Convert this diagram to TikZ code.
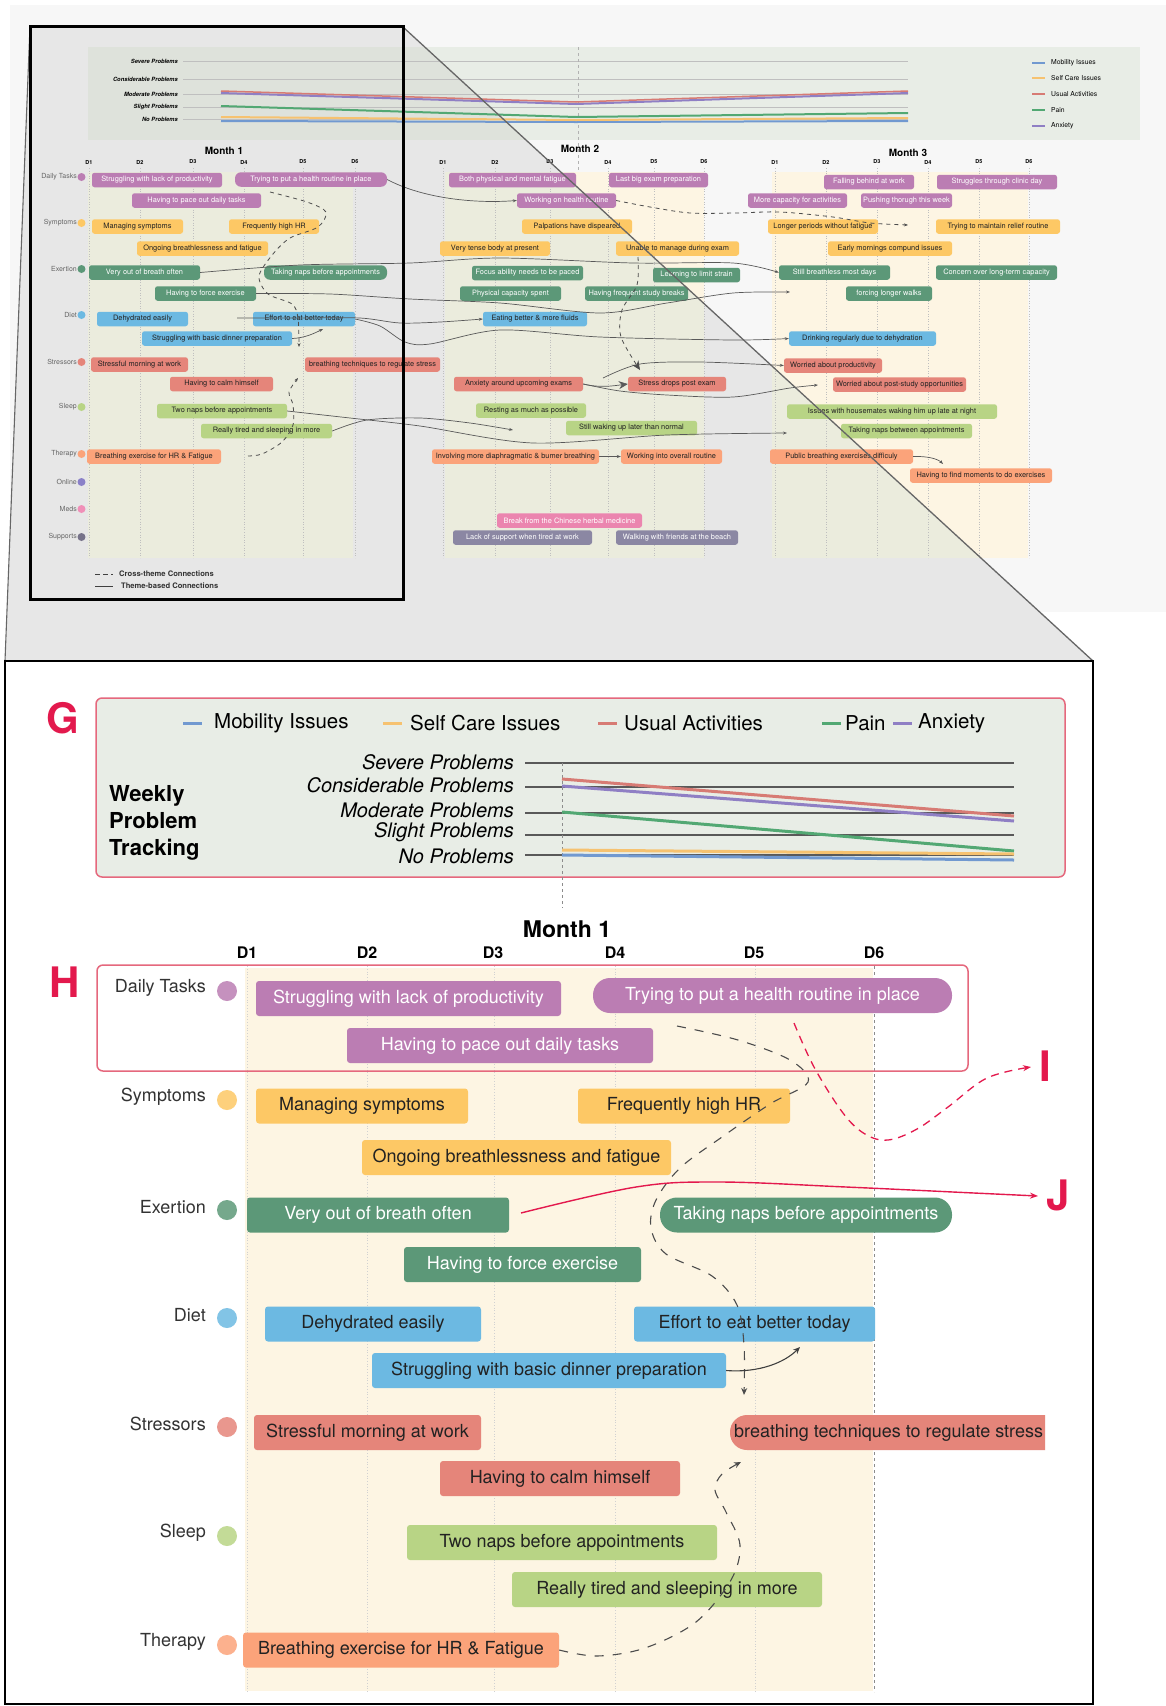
\documentclass[tikz,border=0pt]{standalone}
\usepackage{fontspec}
\setmainfont{TeX Gyre Heros}
\usetikzlibrary{arrows.meta,calc}
\definecolor{cpu}{HTML}{BB7DB3}
\definecolor{cor}{HTML}{FDC865}
\definecolor{cgr}{HTML}{5C9878}
\definecolor{cbl}{HTML}{6CB9E2}
\definecolor{crd}{HTML}{E5857A}
\definecolor{clg}{HTML}{B8D485}
\definecolor{csa}{HTML}{FBA37A}
\definecolor{cpk}{HTML}{EB85AF}
\definecolor{csp}{HTML}{8B87A3}
\definecolor{cream}{HTML}{FDF5E3}
\definecolor{creamsh}{HTML}{EBECDD}
\definecolor{gpanel}{HTML}{E8EDE6}
\definecolor{gpanelsh}{HTML}{DEE2DB}
\definecolor{backsh}{HTML}{E7E7E7}
\definecolor{hred}{HTML}{E5687D}
\definecolor{lred}{HTML}{E3194D}
\definecolor{lmob}{HTML}{7199D0}
\definecolor{lself}{HTML}{F6C270}
\definecolor{lusu}{HTML}{D77B74}
\definecolor{lpain}{HTML}{52A873}
\definecolor{lanx}{HTML}{8F7FC4}
\definecolor{donl}{HTML}{8A80C8}
\definecolor{dmed}{HTML}{F08FB8}
\definecolor{dsup}{HTML}{77738A}
\definecolor{txt}{HTML}{222222}
\definecolor{lab}{HTML}{333333}
\begin{document}
\begin{tikzpicture}[x=1pt,y=-1pt,
  sb/.style={rectangle,rounded corners=2.5,minimum height=14.5,inner sep=0,font=\fontsize{7.4}{8}\selectfont},
  bb/.style={rectangle,rounded corners=3,minimum height=35,inner sep=0,font=\fontsize{18}{20}\selectfont},
  pill/.style={rounded corners=17},
  pu/.style={fill=cpu,text=white},
  or/.style={fill=cor,text=txt},
  gr/.style={fill=cgr,text=white},
  bl/.style={fill=cbl,text=txt},
  rd/.style={fill=crd,text=txt},
  lg/.style={fill=clg,text=txt},
  sa/.style={fill=csa,text=txt},
  pk/.style={fill=cpk,text=white},
  sp/.style={fill=csp,text=white},
  oc/.style={draw=black!65,line width=0.7,-{Stealth[length=4pt,width=3pt]}},
  ocd/.style={draw=black!70,line width=0.8,dash pattern=on 4pt off 4pt,-{Stealth[length=4pt,width=3pt]}},
  bigtip/.style={-{Stealth[length=9pt,width=8pt]}},
  bdash/.style={draw=black!70,line width=1.1,dash pattern=on 9pt off 9pt},
  rdash/.style={draw=lred,line width=1.3,dash pattern=on 8pt off 6pt,-{Stealth[length=8pt,width=6pt]}},
  olab/.style={anchor=east,font=\fontsize{7}{8}\selectfont,text=black!60,inner sep=0},
  blab/.style={anchor=east,font=\fontsize{18}{20}\selectfont,text=lab,inner sep=0},
  dayl/.style={draw=black!25,line width=0.6,dotted},
  big/.style={font=\bfseries\fontsize{42}{44}\selectfont,text=lred,inner sep=0}
]
\useasboundingbox (0,0) rectangle (1166,1706);
\fill[white] (0,0) rectangle (1166,1706);
% ===== overview backdrop
\fill[black!3] (10,5) rectangle (1166,612);
\fill[backsh] (30,26) -- (403,27) -- (1093,661) -- (5,661) -- cycle;
% chart panel
\fill[gpanel] (88,47) rectangle (1140,140);
% month columns
\fill[cream] (88,172) rectangle (353,558);
\fill[cream] (445,172) rectangle (704,558);
\fill[cream] (772,172) rectangle (1028,558);
\begin{scope}
\clip (30,26) -- (403,27) -- (1093,661) -- (5,661) -- cycle;
\fill[gpanelsh] (88,47) rectangle (1140,140);
\fill[creamsh] (88,172) rectangle (353,558);
\fill[creamsh] (445,172) rectangle (704,558);
\fill[creamsh] (772,172) rectangle (1028,558);
\end{scope}
\foreach \yy in {61,79,94,107,119} \draw[black!25,line width=0.5] (183,\yy) -- (908,\yy);
\draw[black!30,dashed,line width=0.5] (578,47) -- (578,172);
\foreach \yy/\tt in {61/Severe Problems,79/Considerable Problems,94/Moderate Problems,107/Slight Problems,119/No Problems}
  \node[anchor=east,inner sep=0,font=\bfseries\itshape\fontsize{5.8}{7}\selectfont] at (178,\yy) {\tt};
\draw[lmob,line width=2] (221,121) -- (576,122) -- (908,121);
\draw[lself,line width=2] (221,117) -- (576,120) -- (908,118);
\draw[lpain,line width=2] (221,106) -- (576,117) -- (908,113);
\draw[lanx,line width=2] (221,93) -- (576,104) -- (908,93);
\draw[lusu,line width=1.5] (221,91) -- (576,102) -- (908,91);
\foreach \yy/\cc/\tt in {63/lmob/Mobility Issues,78/lself/Self Care Issues,94/lusu/Usual Activities,110/lpain/Pain,126/lanx/Anxiety}{
  \draw[\cc,line width=1.3] (1032,\yy) -- (1045,\yy);
  \node[anchor=west,inner sep=0,font=\fontsize{6.8}{8}\selectfont] at (1051,\yy) {\tt};}
\foreach \xx in {89,140,193,244,303,355,443,495,550,608,654,704,775,826,877,928,979,1029}
  \draw[dayl] (\xx,168) -- (\xx,558);
\node[font=\bfseries\fontsize{10}{12}\selectfont] at (224,151) {Month 1};
\node[font=\bfseries\fontsize{10}{12}\selectfont] at (580,149) {Month 2};
\node[font=\bfseries\fontsize{10}{12}\selectfont] at (908,153) {Month 3};
\foreach \xx/\dd in {89/D1,140/D2,193/D3,244/D4,303/D5,355/D6,443/D1,495/D2,550/D3,608/D4,654/D5,704/D6,775/D1,826/D2,877/D3,928/D4,979/D5,1029/D6}
  \node[font=\bfseries\fontsize{5.5}{6}\selectfont] at (\xx,162) {\dd};
% row labels
\foreach \yy/\tt/\cc in {177/Daily Tasks/cpu,223/Symptoms/cor,269/Exertion/cgr,315/Diet/cbl,362/Stressors/crd,407/Sleep/clg,454/Therapy/csa,482/Online/donl,509/Meds/dmed,537/Supports/dsup}{
  \node[olab] at (77,\yy) {\tt};
  \fill[\cc] (81.5,\yy) circle (4);}
% ---- month 1 small boxes
\node[sb,pu,minimum width=130] (a1) at (157,180) {Struggling with lack of productivity};
\node[sb,pu,minimum width=152,rounded corners=6] (a2) at (311,179.5) {Trying to put a health routine in place};
\node[sb,pu,minimum width=129] (a3) at (196.5,200.5) {Having to pace out daily tasks};
\node[sb,or,minimum width=91] (a4) at (137.5,226.5) {Managing symptoms};
\node[sb,or,minimum width=90] (a5) at (274,226.5) {Frequently high HR};
\node[sb,or,minimum width=131] (a6) at (202.5,248.5) {Ongoing breathlessness and fatigue};
\node[sb,gr,minimum width=111] (a7) at (144.5,272.5) {Very out of breath often};
\node[sb,gr,minimum width=123,rounded corners=6] (a8) at (325.5,272.5) {Taking naps before appointments};
\node[sb,gr,minimum width=101] (a9) at (205.5,293.5) {Having to force exercise};
\node[sb,bl,minimum width=91] (a10) at (142.5,319) {Dehydrated easily};
\node[sb,bl,minimum width=102] (a11) at (304,319) {Effort to eat better today};
\node[sb,bl,minimum width=150] (a12) at (217,338.5) {Struggling with basic dinner preparation};
\node[sb,rd,minimum width=97] (a13) at (139.5,364.5) {Stressful morning at work};
\node[sb,rd,minimum width=135] (a14) at (372.5,364.5) {breathing techniques to regulate stress};
\node[sb,rd,minimum width=103] (a15) at (221.5,384) {Having to calm himself};
\node[sb,lg,minimum width=130] (a16) at (222,411) {Two naps before appointments};
\node[sb,lg,minimum width=131] (a17) at (266.5,431) {Really tired and sleeping in more};
\node[sb,sa,minimum width=134] (a18) at (154,456.5) {Breathing exercise for HR \& Fatigue};
% ---- month 2
\node[sb,pu,minimum width=127] (b1) at (512.5,180) {Both physical and mental fatigue};
\node[sb,pu,minimum width=99] (b2) at (658.5,180) {Last big exam preparation};
\node[sb,pu,minimum width=99] (b3) at (566.5,200.5) {Working on health routine};
\node[sb,or,minimum width=110] (b4) at (577,226.5) {Palpations have dispeared};
\node[sb,or,minimum width=110] (b5) at (495,248.5) {Very tense body at present};
\node[sb,or,minimum width=123] (b6) at (677.5,248.5) {Unable to manage during exam};
\node[sb,gr,minimum width=111] (b7) at (527.5,273) {Focus ability needs to be paced};
\node[sb,gr,minimum width=87] (b8) at (696.5,275) {Learning to limit strain};
\node[sb,gr,minimum width=101] (b9) at (510.5,293.5) {Physical capacity spent};
\node[sb,gr,minimum width=103] (b10) at (636.5,293.5) {Having frequent study breaks};
\node[sb,bl,minimum width=104] (b11) at (535,319) {Eating better \& more fluids};
\node[sb,rd,minimum width=129] (b12) at (518.5,384) {Anxiety around upcoming exams};
\node[sb,rd,minimum width=98] (b13) at (677,384) {Stress drops post exam};
\node[sb,lg,minimum width=110] (b14) at (531,410.5) {Resting as much as possible};
\node[sb,lg,minimum width=131] (b15) at (631.5,428) {Still waking up later than normal};
\node[sb,sa,minimum width=167] (b16) at (515.5,456.5) {Involving more diaphragmatic \& bumer breathing};
\node[sb,sa,minimum width=101] (b17) at (671.5,456.5) {Working into overall routine};
\node[sb,pk,minimum width=145] (b18) at (569.5,520.5) {Break from the Chinese herbal medicine};
\node[sb,sp,minimum width=139] (b19) at (522.5,537.5) {Lack of support when tired at work};
\node[sb,sp,minimum width=122] (b20) at (677,537.5) {Walking with friends at the beach};
% ---- month 3
\node[sb,pu,minimum width=90] (c1) at (869,182) {Falling behind at work};
\node[sb,pu,minimum width=120] (c2) at (997,182) {Struggles through clinic day};
\node[sb,pu,minimum width=99] (c3) at (797.5,200.5) {More capacity for activities};
\node[sb,pu,minimum width=91] (c4) at (906.5,200.5) {Pushing thorugh this week};
\node[sb,or,minimum width=110] (c5) at (823,226.5) {Longer periods without fatigue};
\node[sb,or,minimum width=124] (c6) at (998,226.5) {Trying to maintain relief routine};
\node[sb,or,minimum width=124] (c7) at (890,248.5) {Early mornings compund issues};
\node[sb,gr,minimum width=111] (c8) at (834.5,272.5) {Still breathless most days};
\node[sb,gr,minimum width=121] (c9) at (996.5,272.5) {Concern over long-term capacity};
\node[sb,gr,minimum width=86] (c10) at (889,293.5) {forcing longer walks};
\node[sb,bl,minimum width=147] (c11) at (862.5,338.5) {Drinking regularly due to dehydration};
\node[sb,rd,minimum width=98] (c12) at (833,365.5) {Worried about productivity};
\node[sb,rd,minimum width=133] (c13) at (899.5,384.5) {Worried about post-study opportunities};
\node[sb,lg,minimum width=210] (c14) at (892,411.5) {Issues with housemates waking him up late at night};
\node[sb,lg,minimum width=131] (c15) at (906.5,431) {Taking naps between appointments};
\node[sb,sa,minimum width=143] (c16) at (841.5,456.5) {Public breathing exercises difficuly};
\node[sb,sa,minimum width=142] (c17) at (981,475.5) {Having to find moments to do exercises};
% ---- overview connectors
\draw[oc] (a2.east) .. controls (420,197) and (470,204) .. (b3.west);
\coordinate (o1) at (908,225);
\draw[ocd] plot[smooth] coordinates {(b3.east) (650,207) (690,213) (735,213) (780,212) (833,217) (870,223) (o1)};
\draw[oc] plot[smooth] coordinates {(a7.east) (300,265) (410,263) (500,258) (633,263) (733,263) (c8.west)};
\coordinate (o2) at (790,292);
\draw[oc] plot[smooth] coordinates {(a9.east) (330,294) (410,299) (500,303) (600,313) (667,303) (733,293) (o2)};
\coordinate (o3) at (237,318);
\draw[oc] plot[smooth] coordinates {(o3) (300,318) (360,318) (400,323) (440,322) (b11.west)};
\draw[oc] plot[smooth] coordinates {(a11.east) (380,326) (405,342) (430,344) (500,330) (600,337) (733,340) (c11.west)};
\coordinate (o4) at (603,378);
\draw[oc] plot[smooth] coordinates {(o4) (640,364) (700,362) (c12.west)};
\draw[oc,bigtip] (b12.east) .. controls (600,388) and (612,386) .. (b13.west);
\coordinate (o5) at (818,385);
\draw[oc] plot[smooth] coordinates {(b12.east) (620,391) (667,395) (733,397) (790,388) (o5)};
\coordinate (o6) at (638,257);
\coordinate (o7) at (640,370);
\draw[ocd,bigtip] plot[smooth] coordinates {(o6) (637,285) (622,310) (621,337) (o7)};
\coordinate (o8) at (787,433);
\draw[oc] plot[smooth] coordinates {(a16.east) (350,418) (420,426) (533,443) (667,435) (o8)};
\coordinate (o9) at (513,430);
\draw[oc] plot[smooth] coordinates {(a17.east) (367,420) (420,418) (470,423) (o9)};
\draw[oc] (b16.east) -- (b17.west);
\coordinate (o10) at (943,464);
\draw[oc] (c16.east) .. controls (928,456) and (938,459) .. (o10);
% mini cross-theme
\coordinate (m1) at (270,192);
\coordinate (m2) at (299,347);
\draw[ocd] plot[smooth] coordinates {(m1) (307,202) (326,212) (318,227) (290,238) (273,254) (259,276) (268,294) (292,304) (298,318) (m2)};
\coordinate (m3) at (323,329);
\draw[oc] (a12.east) .. controls (305,338) and (315,333) .. (m3);
\coordinate (m4) at (248,456);
\coordinate (m5) at (298,378);
\draw[ocd] plot[smooth] coordinates {(m4) (262,454) (282,442) (293,425) (293,405) (289,392) (m5)};
% overview legend
\draw[black!75,line width=0.9,dash pattern=on 5pt off 3pt] (95,574) -- (113,574);
\node[anchor=west,inner sep=0,font=\bfseries\fontsize{7.6}{8}\selectfont,text=black!80] (lg1) at (119,574) {Cross-theme Connections};
\draw[black!75,line width=0.9] (95,586) -- (113,586);
\node[anchor=west,inner sep=0,font=\bfseries\fontsize{7.6}{8}\selectfont,text=black!80] (lg2) at (121,586) {Theme-based Connections};
% ===== zoom lines and frames
\draw[black!60,line width=1.1] (30,26) -- (5,661);
\draw[black!60,line width=1.3] (403,27) -- (1093,661);
\draw[black,line width=3] (30,26) rectangle (403,599);
\fill[white] (5,661) rectangle (1093,1704);
\draw[black,line width=2.5] (5,661) rectangle (1093,1704);
% ===== bottom G panel
\node[big] (G) at (63,718) {G};
\draw[hred,line width=1.5,fill=gpanel,rounded corners=6] (96,698) rectangle (1065,877);
\foreach \xa/\cc/\xt/\tt in {183/lmob/214/Mobility Issues,383/lself/410/Self Care Issues,598/lusu/624/Usual Activities,822/lpain/845/Pain,893/lanx/918/Anxiety}{
  \draw[\cc,line width=3] (\xa,723) -- (\xa+19,723);
  \node[anchor=west,inner sep=0,font=\fontsize{20.5}{22}\selectfont] at (\xt,723) {\tt};}
\node[anchor=west,inner sep=0,align=left,font=\bfseries\fontsize{22}{27}\selectfont] at (109,823) {Weekly\\Problem\\Tracking};
\foreach \yy/\yl/\tt in {763/762/Severe Problems,787/785/Considerable Problems,813/810/Moderate Problems,835/832/Slight Problems,855/856/No Problems}{
  \draw[black!65,line width=1.5] (525,\yy) -- (1014,\yy);
  \node[anchor=east,inner sep=0,font=\itshape\fontsize{20}{22}\selectfont] at (514,\yl) {\tt};}
\draw[black!45,dashed,line width=0.6] (562,763) -- (562,908);
\draw[lusu,line width=3] (562,779) -- (1014,816);
\draw[lanx,line width=3] (562,786) -- (1014,821);
\draw[lpain,line width=3] (562,812) -- (1014,851);
\draw[lself,line width=3] (562,850) -- (1014,854);
\draw[lmob,line width=3] (562,855) -- (1014,860);
% ===== bottom timeline
\node[font=\bfseries\fontsize{23}{25}\selectfont] (M1) at (567,929) {Month 1};
\foreach \xx/\dd in {247/D1,367/D2,493/D3,615/D4,754/D5,874/D6}
  \node[font=\bfseries\fontsize{16}{18}\selectfont] at (\xx,953) {\dd};
\fill[cream] (245,968) rectangle (873,1691);
\foreach \xx in {247,367,494,615,755}
  \draw[black!18,line width=0.8,dotted] (\xx,966) -- (\xx,1692);
\draw[black!45,line width=0.8,dash pattern=on 3pt off 3pt] (874,966) -- (874,1692);
\draw[hred,line width=1.5,rounded corners=6] (97,965) rectangle (968,1071);
\node[big] (H) at (65,982) {H};
\foreach \yy/\tt/\cc in {991/Daily Tasks/cpu,1100/Symptoms/cor,1210/Exertion/cgr,1318/Diet/cbl,1427/Stressors/crd,1536/Sleep/clg,1645/Therapy/csa}{
  \node[blab] at (206,\yy-3) {\tt};
  \fill[\cc!85] (227,\yy) circle (10);}
\node[bb,pu,minimum width=305] (p1) at (408.5,998.5) {Struggling with lack of productivity};
\node[bb,pu,pill,minimum width=359] (p2) at (772.5,995.5) {Trying to put a health routine in place};
\node[bb,pu,minimum width=306] (p3) at (500,1045.5) {Having to pace out daily tasks};
\node[bb,or,minimum width=212] (s1) at (362,1106) {Managing symptoms};
\node[bb,or,minimum width=212] (s2) at (684,1106) {Frequently high HR};
\node[bb,or,minimum width=309] (s3) at (516.5,1157.5) {Ongoing breathlessness and fatigue};
\node[bb,gr,minimum width=262] (e1) at (378,1215) {Very out of breath often};
\node[bb,gr,pill,minimum width=292] (e2) at (806,1215) {Taking naps before appointments};
\node[bb,gr,minimum width=237] (e3) at (522.5,1264.5) {Having to force exercise};
\node[bb,bl,minimum width=216] (d1) at (373,1324) {Dehydrated easily};
\node[bb,bl,minimum width=241] (d2) at (754.5,1324) {Effort to eat better today};
\node[bb,bl,minimum width=354] (d3) at (549,1370.5) {Struggling with basic dinner preparation};
\node[bb,rd,minimum width=227] (t1) at (367.5,1432.5) {Stressful morning at work};
\fill[crd,rounded corners=17] (1045,1415) -- (730,1415) -- (730,1450) -- (1045,1450);
\node[anchor=west,inner sep=0,minimum height=35,font=\fontsize{18}{20}\selectfont,text=txt] (t2) at (734,1432.5) {breathing techniques to regulate stress};
\node[bb,rd,minimum width=240] (t3) at (560,1478.5) {Having to calm himself};
\node[bb,lg,minimum width=310] (l1) at (562,1542.5) {Two naps before appointments};
\node[bb,lg,minimum width=310] (l2) at (667,1589.5) {Really tired and sleeping in more};
\node[bb,sa,minimum width=316] (h1) at (401,1650) {Breathing exercise for HR \& Fatigue};
% bottom connectors
\coordinate (q1) at (677,1026);
\coordinate (q2) at (744,1395);
\draw[bdash,-{Stealth[length=7pt,width=6pt]}] plot[smooth,tension=0.55] coordinates {(q1) (738,1040) (790,1060) (808,1082) (770,1104) (722,1137) (680,1168) (656,1200) (651,1228) (666,1254) (712,1276) (737,1305) (744,1345) (q2)};
\coordinate (q3) at (800,1347);
\draw[black!75,line width=1.1,-{Stealth[length=7pt,width=6pt]}] (d3.east) .. controls (760,1373) and (785,1362) .. (q3);
\coordinate (q4) at (741,1462);
\draw[bdash,-{Stealth[length=7pt,width=6pt]}] plot[smooth,tension=0.55] coordinates {(h1.east) (597,1656) (645,1648) (696,1622) (731,1580) (740,1545) (726,1512) (715,1490) (722,1474) (q4)};
\coordinate (q5) at (1038,1196);
\draw[lred,line width=1.4,-{Stealth[length=8pt,width=6pt]}] plot[smooth,tension=0.6] coordinates {(521,1213) (636,1187) (719,1182) (846,1187) (974,1193) (q5)};
\coordinate (q6) at (794,1023);
\coordinate (q7) at (1031,1067);
\draw[rdash] plot[smooth,tension=0.6] coordinates {(q6) (814,1067) (843,1113) (865,1134) (888,1140) (917,1129) (948,1107) (987,1078) (q7)};
\node[big] (I) at (1045,1066) {I};
\node[big] (J) at (1058,1195) {J};
\end{tikzpicture}
\end{document}
